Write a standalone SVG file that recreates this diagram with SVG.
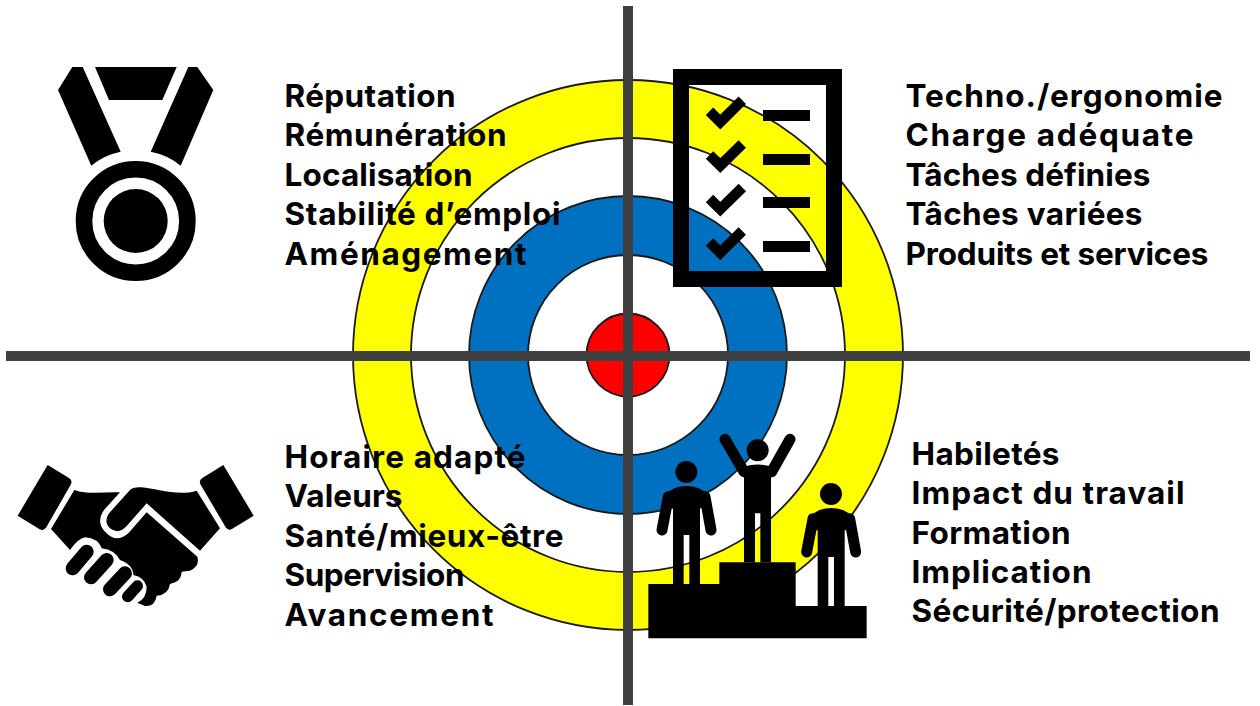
<svg xmlns="http://www.w3.org/2000/svg" width="1260" height="706" viewBox="0 0 1260 706">
<style>
text{font-family:"Inter","Liberation Sans",sans-serif;font-weight:700;font-size:31.500px;fill:#000}
.ring{stroke:#1a1a1a;stroke-width:1.800}
.axis{stroke:#404040;fill:none}
.ck{fill:none;stroke:#000;stroke-width:10.500}
.limb{fill:none;stroke:#000;stroke-width:33;stroke-linecap:round}
.fing{fill:none;stroke:#000;stroke-width:42;stroke-linecap:round}
</style>
<rect width="1260" height="706" fill="#fff"/>
<g id="target">
<circle class="ring" cx="628" cy="355" r="275" fill="#ffff00"/>
<circle class="ring" cx="628" cy="355" r="217" fill="#fff"/>
<circle class="ring" cx="628" cy="355" r="159" fill="#0070c0"/>
<circle class="ring" cx="628" cy="355" r="100" fill="#fff"/>
<circle class="ring" cx="628" cy="355" r="41.500" fill="#ff0000"/>
</g>
<g id="connectors">
<line class="axis" x1="628" y1="6" x2="628" y2="705" stroke-width="10"/>
<line class="axis" x1="6" y1="356" x2="1250" y2="356" stroke-width="10"/>
</g>
<g id="medal">
<path d="M95,67H176.700L162.300,100H109Z"/>
<path d="M72.300,67H82.700L120.700,151.700Q104,155 91.300,165.700L58,90Z"/>
<path d="M188.300,67H197.300L213.300,90L180.700,165.700Q168,155 150.700,151.700Z"/>
<circle cx="135.700" cy="221" r="51.700" fill="none" stroke="#000" stroke-width="16.600"/>
<circle cx="135.700" cy="221" r="32"/>
</g>
<g id="checklist">
<path fill-rule="evenodd" d="M673,69H842V287H673ZM689,85V271H826V85Z"/>
<g id="checks">
<path class="ck" d="M709.500,111.300L720.300,122L742.300,100.300"/>
<path class="ck" d="M709.500,154.900L720.300,165.600L742.300,143.900"/>
<path class="ck" d="M709.500,198.500L720.300,209.200L742.300,187.500"/>
<path class="ck" d="M709.500,242.100L720.300,252.800L742.300,231.100"/>
</g>
<rect x="763" y="110" width="47" height="11"/>
<rect x="763" y="154" width="47" height="11"/>
<rect x="763" y="197" width="47" height="11"/>
<rect x="763" y="241" width="47" height="11"/>
</g>
<g id="handshake" transform="translate(5,450) scale(.33333)">
<path d="M128,45L192,84Q204,92 197,104L124,232Q116,244 104,238L38,197Z"/>
<path d="M655,45L746,197L682,236Q670,244 662,232L587,104Q580,92 592,84Z"/>
<path d="M375,120Q385,110 410,112C450,115 520,140 575,122L645,235L585,302L425,160L365,228Q340,255 315,235Q295,215 312,190Z"/>
<path d="M208,120C250,135 300,125 345,127L297,180Q270,220 305,250Q335,280 370,250L425,187L577,320Q585,350 555,362L530,365Q530,395 495,402Q490,435 455,437Q450,470 420,468L397,458Q425,445 425,410Q418,382 385,375Q385,345 345,330Q330,300 290,295Q280,265 240,262Q220,265 195,300L138,237Z"/>
<path class="fing" d="M203,355L245,305"/>
<path class="fing" d="M258,382L305,330"/>
<path class="fing" d="M315,418L360,370"/>
<path class="fing" style="stroke-width:34" d="M368,440L397,408"/>
</g>
<g id="podium" transform="translate(640,425) scale(.33333)">
<path d="M25,477H238V412H467V543H680V640H25Z"/>
<g id="person1">
<circle cx="139" cy="141" r="33"/>
<path class="limb" d="M85,215L66,315M195,215L213,315"/>
<path d="M75,210Q100,183 139,183Q180,183 205,210L195,250H180V477H148V330H131V477H99V250H85Z"/>
</g>
<g id="person2">
<circle cx="353" cy="76" r="33"/>
<path class="limb" d="M255,43L312,140M450,43L395,140"/>
<path d="M312,125Q353,112 395,125L393,165V412H361V265H345V412H312Z"/>
</g>
<g id="person3" transform="translate(434,66)">
<circle cx="139" cy="141" r="33"/>
<path class="limb" d="M85,215L66,315M195,215L213,315"/>
<path d="M75,210Q100,183 139,183Q180,183 205,210L195,250H180V477H148V330H131V477H99V250H85Z"/>
</g>
</g>
<g id="text-tl">
<text x="284.500" y="107" textLength="171">Réputation</text>
<text x="284.500" y="146" textLength="222">Rémunération</text>
<text x="284.500" y="186" textLength="188">Localisation</text>
<text x="284.500" y="225" textLength="276">Stabilité d’emploi</text>
<text x="284.500" y="265" textLength="242">Aménagement</text>
</g>
<g id="text-tr">
<text x="905.500" y="107" textLength="317">Techno./ergonomie</text>
<text x="905.500" y="146" textLength="288">Charge adéquate</text>
<text x="905.500" y="186" textLength="245">Tâches définies</text>
<text x="905.500" y="225" textLength="237">Tâches variées</text>
<text x="905.500" y="265" textLength="303">Produits et services</text>
</g>
<g id="text-bl">
<text x="284.500" y="468" textLength="241">Horaire adapté</text>
<text x="284.500" y="507" textLength="118">Valeurs</text>
<text x="284.500" y="547" textLength="279">Santé/mieux-être</text>
<text x="284.500" y="586" textLength="180">Supervision</text>
<text x="284.500" y="626" textLength="209">Avancement</text>
</g>
<g id="text-br">
<text x="911.500" y="465" textLength="148">Habiletés</text>
<text x="911.500" y="504" textLength="273">Impact du travail</text>
<text x="911.500" y="544" textLength="159">Formation</text>
<text x="911.500" y="583" textLength="180">Implication</text>
<text x="911.500" y="622" textLength="308">Sécurité/protection</text>
</g>
</svg>
